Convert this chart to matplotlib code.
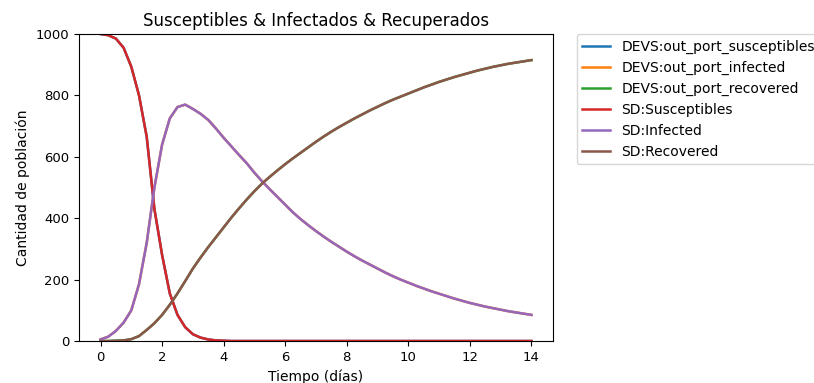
import numpy as np
import matplotlib
matplotlib.use('Agg')
import matplotlib.pyplot as plt

tiempo = [0.0, 0.25, 0.5, 0.75, 1.0, 1.25, 1.5, 1.75, 2.0, 2.25, 2.5, 2.75,
          3.0, 3.25, 3.5, 3.75, 4.0, 4.25, 4.5, 4.75, 5.0, 5.25, 5.5, 5.75,
          6.0, 6.25, 6.5, 6.75, 7.0, 7.25, 7.5, 7.75, 8.0, 8.25, 8.5, 8.75,
          9.0, 9.25, 9.5, 9.75, 10.0, 10.25, 10.5, 10.75, 11.0, 11.25, 11.5, 11.75,
          12.0, 12.25, 12.5, 12.75, 13.0, 13.25, 13.5, 13.75, 14.0]

susceptibles = [1000, 996, 985, 955, 893, 800, 665, 430, 280, 155, 85, 45,
                22, 11, 5, 2, 1, 0, 0, 0, 0, 0, 0, 0,
                0, 0, 0, 0, 0, 0, 0, 0, 0, 0, 0, 0,
                0, 0, 0, 0, 0, 0, 0, 0, 0, 0, 0, 0,
                0, 0, 0, 0, 0, 0, 0, 0, 0]

infectados = [5, 14, 33, 60, 100, 185, 320, 500, 640, 725, 762, 770,
              756, 740, 720, 692, 662, 634, 606, 579, 548, 520, 494, 469,
              444, 419, 397, 377, 358, 340, 323, 307, 291, 276, 262, 249,
              236, 223, 211, 200, 190, 180, 171, 162, 154, 146, 138, 131,
              124, 118, 112, 107, 102, 97, 93, 89, 85]

recuperados = [0, 0, 1, 2, 6, 16, 36, 58, 85, 118, 155, 195,
               236, 272, 306, 338, 370, 402, 432, 461, 488, 513, 535, 556,
               576, 595, 613, 631, 649, 666, 682, 697, 711, 725, 738, 751,
               763, 775, 786, 796, 806, 816, 826, 835, 844, 852, 860, 867,
               874, 881, 887, 893, 898, 903, 907, 911, 915]

devs_labels = ['DEVS:out_port_susceptibles', 'DEVS:out_port_infected', 'DEVS:out_port_recovered']
sd_labels = ['SD:Susceptibles', 'SD:Infected', 'SD:Recovered']

fig = plt.figure(figsize=(8.14, 3.83), dpi=100)
ax = fig.add_axes([79/814, 42/383, 474/814, 307/383])

series = [susceptibles, infectados, recuperados]
# DEVS primero, SD encima
for vals, lab in zip(series, devs_labels):
    ax.plot(tiempo, vals, label=lab, linewidth=1.8)
for vals, lab in zip(series, sd_labels):
    ax.plot(tiempo, vals, label=lab, linewidth=1.8)

ax.set_ylim(0, 1000)
ax.set_title("Susceptibles & Infectados & Recuperados", fontsize=12)
ax.set_xlabel("Tiempo (días)", fontsize=10)
ax.set_ylabel("Cantidad de población", fontsize=10)
ax.tick_params(labelsize=9.5)
ax.legend(bbox_to_anchor=(1.05, 1), loc=2, borderaxespad=0., fontsize=10)

plt.savefig("out.png", dpi=100)
